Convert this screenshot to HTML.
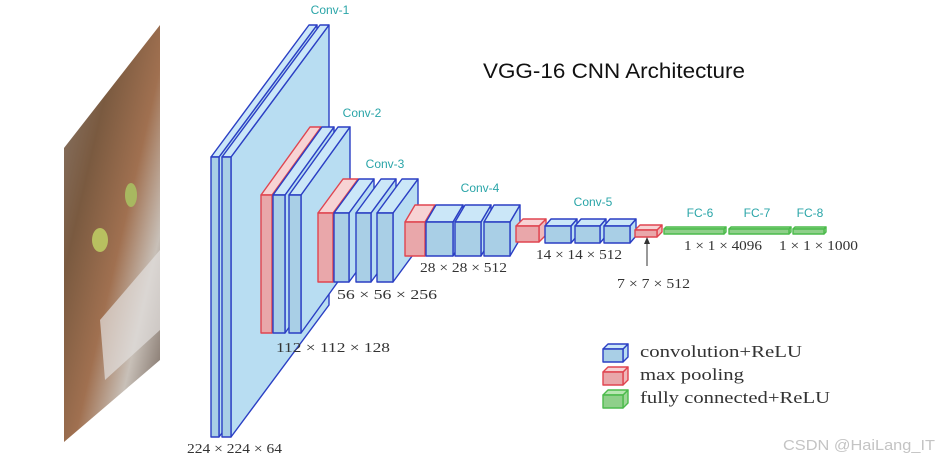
<!DOCTYPE html>
<html><head><meta charset="utf-8"><style>
html,body{margin:0;padding:0;background:#fff;width:940px;height:460px;overflow:hidden}
svg{display:block}
.c{font-family:"Liberation Sans",sans-serif;font-size:12px;fill:#2aa5a8}
.d{font-family:"Liberation Serif",serif;font-size:14px;fill:#333}
.l{font-family:"Liberation Serif",serif;font-size:17px;fill:#333}
</style></head><body>
<svg id="s" width="940" height="460" viewBox="0 0 940 460" xmlns="http://www.w3.org/2000/svg">
<defs>
<linearGradient id="cat" x1="0" y1="0" x2="1" y2="1">
<stop offset="0" stop-color="#8a7a6e"/><stop offset="0.3" stop-color="#7a5a40"/>
<stop offset="0.55" stop-color="#a07050"/><stop offset="0.75" stop-color="#c8c0b8"/>
<stop offset="1" stop-color="#6a5a50"/></linearGradient>
</defs>
<polygon points="64,148 160,25 160,360 64,442" fill="url(#cat)"/>
<polygon points="100,320 160,250 160,330 105,380" fill="#e2e0de" opacity="0.7"/>
<ellipse cx="100" cy="240" rx="8" ry="12" fill="#b8c060"/>
<ellipse cx="131" cy="195" rx="6" ry="12" fill="#a8b860"/>
<g id="g"></g>
<text class="c" x="330" y="14" text-anchor="middle">Conv-1</text>
<text class="c" x="362" y="117" text-anchor="middle">Conv-2</text>
<text class="c" x="385" y="168" text-anchor="middle">Conv-3</text>
<text class="c" x="480" y="192" text-anchor="middle">Conv-4</text>
<text class="c" x="593" y="206" text-anchor="middle">Conv-5</text>
<text class="c" x="700" y="217" text-anchor="middle">FC-6</text>
<text class="c" x="757" y="217" text-anchor="middle">FC-7</text>
<text class="c" x="810" y="217" text-anchor="middle">FC-8</text>
<g lengthAdjust="spacingAndGlyphs">
<text class="d" x="187" y="453" textLength="95" lengthAdjust="spacingAndGlyphs">224 × 224 × 64</text>
<text class="d" x="276" y="352" textLength="114" lengthAdjust="spacingAndGlyphs">112 × 112 × 128</text>
<text class="d" x="337" y="299" textLength="100" lengthAdjust="spacingAndGlyphs">56 × 56 × 256</text>
<text class="d" x="420" y="272" textLength="87" lengthAdjust="spacingAndGlyphs">28 × 28 × 512</text>
<text class="d" x="536" y="259" textLength="86" lengthAdjust="spacingAndGlyphs">14 × 14 × 512</text>
<text class="d" x="617" y="288" textLength="73" lengthAdjust="spacingAndGlyphs">7 × 7 × 512</text>
<text class="d" x="684" y="250" textLength="78" lengthAdjust="spacingAndGlyphs">1 × 1 × 4096</text>
<text class="d" x="779" y="250" textLength="79" lengthAdjust="spacingAndGlyphs">1 × 1 × 1000</text>
</g>
<line x1="647" y1="266" x2="647" y2="241" stroke="#333" stroke-width="1"/>
<polygon points="647,237 644,244 650,244" fill="#333"/>
<text x="483" y="78" font-family="Liberation Sans,sans-serif" font-size="21" fill="#111" textLength="262" lengthAdjust="spacingAndGlyphs">VGG-16 CNN Architecture</text>
<text class="l" x="640" y="357" textLength="162" lengthAdjust="spacingAndGlyphs">convolution+ReLU</text>
<text class="l" x="640" y="380" textLength="104" lengthAdjust="spacingAndGlyphs">max pooling</text>
<text class="l" x="640" y="403" textLength="190" lengthAdjust="spacingAndGlyphs">fully connected+ReLU</text>
<text x="783" y="450" font-family="Liberation Sans,sans-serif" font-size="15" fill="#c4c4c4" textLength="152" lengthAdjust="spacingAndGlyphs">CSDN @HaiLang_IT</text>
</svg>
<script>
var S={c:["#a9cfe6","#cbe7f8","#b8ddf2","#2b3fc4"],p:["#e9a7aa","#f7d3d4","#f0b8ba","#e04550"],f:["#8fd08a","#b8e6b2","#9ed898","#4cbb4c"]};
var g=document.getElementById('g'),h='';
function B(t,x,y,w,H,dx,dy){var s=S[t],st='stroke="'+s[3]+'" stroke-width="1.4" stroke-linejoin="round"';
h+='<polygon points="'+[x+w,y,x+w+dx,y+dy,x+w+dx,y+H+dy,x+w,y+H].join(',')+'" fill="'+s[2]+'" '+st+'/>';
h+='<polygon points="'+[x,y,x+dx,y+dy,x+w+dx,y+dy,x+w,y].join(',')+'" fill="'+s[1]+'" '+st+'/>';
h+='<rect x="'+x+'" y="'+y+'" width="'+w+'" height="'+H+'" fill="'+s[0]+'" '+st+'/>';}
B('c',211,157,8,280,98,-132);B('c',222,157,9,280,98,-132);
B('p',261,195,11,138,49,-68);B('c',273,195,12,138,49,-68);B('c',289,195,12,138,49,-68);
B('p',318,213,15,69,25,-34);B('c',334,213,15,69,25,-34);B('c',356,213,15,69,25,-34);B('c',377,213,16,69,25,-34);
B('p',405,222,20,34,10,-17);B('c',426,222,27,34,10,-17);B('c',455,222,26,34,10,-17);B('c',484,222,26,34,10,-17);
B('p',516,226,23,16,7,-7);B('c',545,226,26,17,6,-7);B('c',575,226,25,17,6,-7);B('c',604,226,26,17,6,-7);
B('p',635,230,22,7,5,-5);
B('f',664,229,60,5,2,-2);B('f',729,229,60,5,2,-2);B('f',793,229,31,5,2,-2);
B('c',603,349,20,13,5,-5);B('p',603,372,20,13,5,-5);B('f',603,395,20,13,5,-5);
g.innerHTML=h;
</script>
</body></html>
